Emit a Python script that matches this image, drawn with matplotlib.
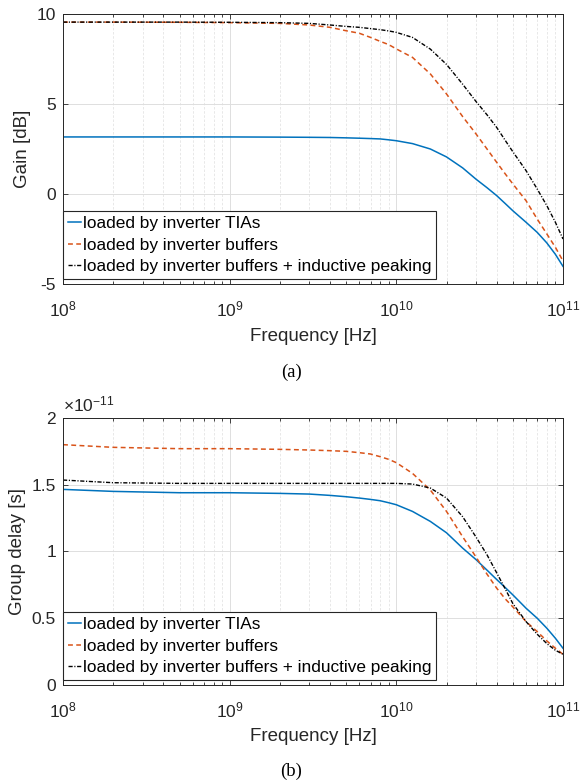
import matplotlib
matplotlib.use("Agg")
import matplotlib.pyplot as plt
import matplotlib.ticker as ticker

plt.rcParams["font.family"] = ["Liberation Sans", "DejaVu Sans"]
plt.rcParams["mathtext.fontset"] = "custom"
plt.rcParams["mathtext.rm"] = "Liberation Sans"
plt.rcParams["mathtext.it"] = "Liberation Sans:italic"
plt.rcParams["axes.unicode_minus"] = False

# Frequency samples [Hz]
freq = [1e8, 2e8, 5e8, 1e9, 2e9, 3e9, 4e9, 5e9, 6e9, 7e9, 8e9, 9e9, 1e10,
        1.25e10, 1.6e10, 2e10, 2.5e10, 3e10, 3.5e10, 4e10, 4.5e10, 5e10,
        6e10, 7e10, 8e10, 9e10, 1e11]

# Gain [dB]
gain_tia = [3.17, 3.17, 3.17, 3.17, 3.16, 3.15, 3.14, 3.12, 3.10, 3.08, 3.06,
            3.01, 2.96, 2.80, 2.50, 2.06, 1.45, 0.83, 0.35, -0.09, -0.53,
            -0.93, -1.57, -2.13, -2.72, -3.35, -4.02]
gain_buf = [9.55, 9.55, 9.54, 9.52, 9.48, 9.39, 9.26, 9.07, 8.93, 8.70, 8.48,
            8.30, 8.06, 7.59, 6.67, 5.56, 4.30, 3.35, 2.50, 1.76, 1.12,
            0.56, -0.37, -1.39, -2.22, -2.96, -3.72]
gain_pk = [9.55, 9.55, 9.55, 9.54, 9.52, 9.48, 9.39, 9.31, 9.26, 9.19, 9.13,
           9.06, 8.98, 8.70, 8.05, 7.20, 6.10, 5.15, 4.40, 3.70, 2.98,
           2.35, 1.30, 0.28, -0.65, -1.57, -2.50]

# Group delay [x1e-11 s]
gd_tia = [1.465, 1.45, 1.44, 1.44, 1.435, 1.43, 1.42, 1.41, 1.40, 1.39, 1.38,
          1.365, 1.35, 1.30, 1.225, 1.14, 1.025, 0.94, 0.86, 0.79, 0.73,
          0.675, 0.575, 0.50, 0.425, 0.35, 0.275]
gd_buf = [1.80, 1.78, 1.77, 1.77, 1.765, 1.76, 1.755, 1.75, 1.74, 1.73, 1.71,
          1.69, 1.665, 1.585, 1.46, 1.30, 1.11, 0.96, 0.83, 0.725, 0.645,
          0.585, 0.475, 0.40, 0.33, 0.275, 0.23]
gd_pk = [1.535, 1.515, 1.51, 1.51, 1.51, 1.51, 1.51, 1.51, 1.51, 1.51, 1.51,
         1.51, 1.51, 1.505, 1.475, 1.40, 1.26, 1.11, 0.975, 0.84, 0.72,
         0.61, 0.475, 0.38, 0.31, 0.26, 0.23]

labels = ["loaded by inverter TIAs",
          "loaded by inverter buffers",
          "loaded by inverter buffers + inductive peaking"]

BLUE = "#0072BD"
ORANGE = "#D95319"
EDGE = "#262626"


def style_axes(ax, yticks, ylim):
    ax.set_xscale("log")
    ax.set_xlim(1e8, 1e11)
    ax.set_ylim(*ylim)
    ax.set_yticks(yticks)
    ax.xaxis.set_major_locator(ticker.LogLocator(base=10, numticks=10))
    ax.xaxis.set_minor_locator(ticker.LogLocator(base=10, subs=range(2, 10), numticks=20))
    ax.grid(True, which="major", color="#dedede", lw=0.7, ls="-")
    ax.grid(True, which="minor", axis="x", color="#e4e4e4", lw=0.6, ls=(0, (3, 2)))
    ax.set_axisbelow(True)
    ax.tick_params(which="both", direction="in", top=True, right=True,
                   colors=EDGE, labelsize=12.5, width=0.6)
    ax.tick_params(which="major", length=3.6, pad=5)
    ax.tick_params(which="minor", length=2.2)
    ax.tick_params(axis="x", which="major", pad=11)
    for s in ax.spines.values():
        s.set_color(EDGE)
        s.set_linewidth(0.7)
    ax.set_xlabel("Frequency [Hz]", fontsize=13.5, color=EDGE, labelpad=6)


def draw_lines(ax, y1, y2, y3):
    ax.plot(freq, y1, color=BLUE, lw=1.1, label=labels[0])
    ax.plot(freq, y2, color=ORANGE, lw=1.1, dashes=(3.2, 2.2), label=labels[1])
    ax.plot(freq, y3, color="black", lw=1.0, dashes=(3.0, 1.2, 0.8, 1.2), label=labels[2])
    leg = ax.legend(loc="lower left", bbox_to_anchor=(0.0, 0.017), borderaxespad=0,
                    fontsize=12.4, handlelength=0.75, handletextpad=0.1,
                    labelspacing=0.38, borderpad=0.3, fancybox=False,
                    framealpha=1, edgecolor=EDGE)
    leg.get_frame().set_linewidth(0.8)


fig = plt.figure(figsize=(5.83, 7.83), dpi=100)

# (a) Gain
ax1 = fig.add_axes([0.1081, 0.6373, 0.8576, 0.3448])
draw_lines(ax1, gain_tia, gain_buf, gain_pk)
style_axes(ax1, [-5, 0, 5, 10], (-5, 10))
ax1.set_ylabel("Gain [dB]", fontsize=13.5, color=EDGE, labelpad=4)

# (b) Group delay
ax2 = fig.add_axes([0.1081, 0.1252, 0.8576, 0.3410])
draw_lines(ax2, gd_tia, gd_buf, gd_pk)
style_axes(ax2, [0, 0.5, 1, 1.5, 2], (0, 2))
ax2.yaxis.set_major_formatter(ticker.FormatStrFormatter("%g"))
ax2.set_ylabel("Group delay [s]", fontsize=13.5, color=EDGE, labelpad=4)
ax2.text(0.0, 1.012, r"$\times10^{-11}$", transform=ax2.transAxes,
         fontsize=12.5, color=EDGE, ha="left", va="bottom")

fig.text(0.5, 0.525, "(a)", family="Liberation Serif", fontsize=13.4,
         ha="center", va="center")
fig.text(0.5, 0.0153, "(b)", family="Liberation Serif", fontsize=13.4,
         ha="center", va="center")

fig.savefig("out.png", dpi=100)
